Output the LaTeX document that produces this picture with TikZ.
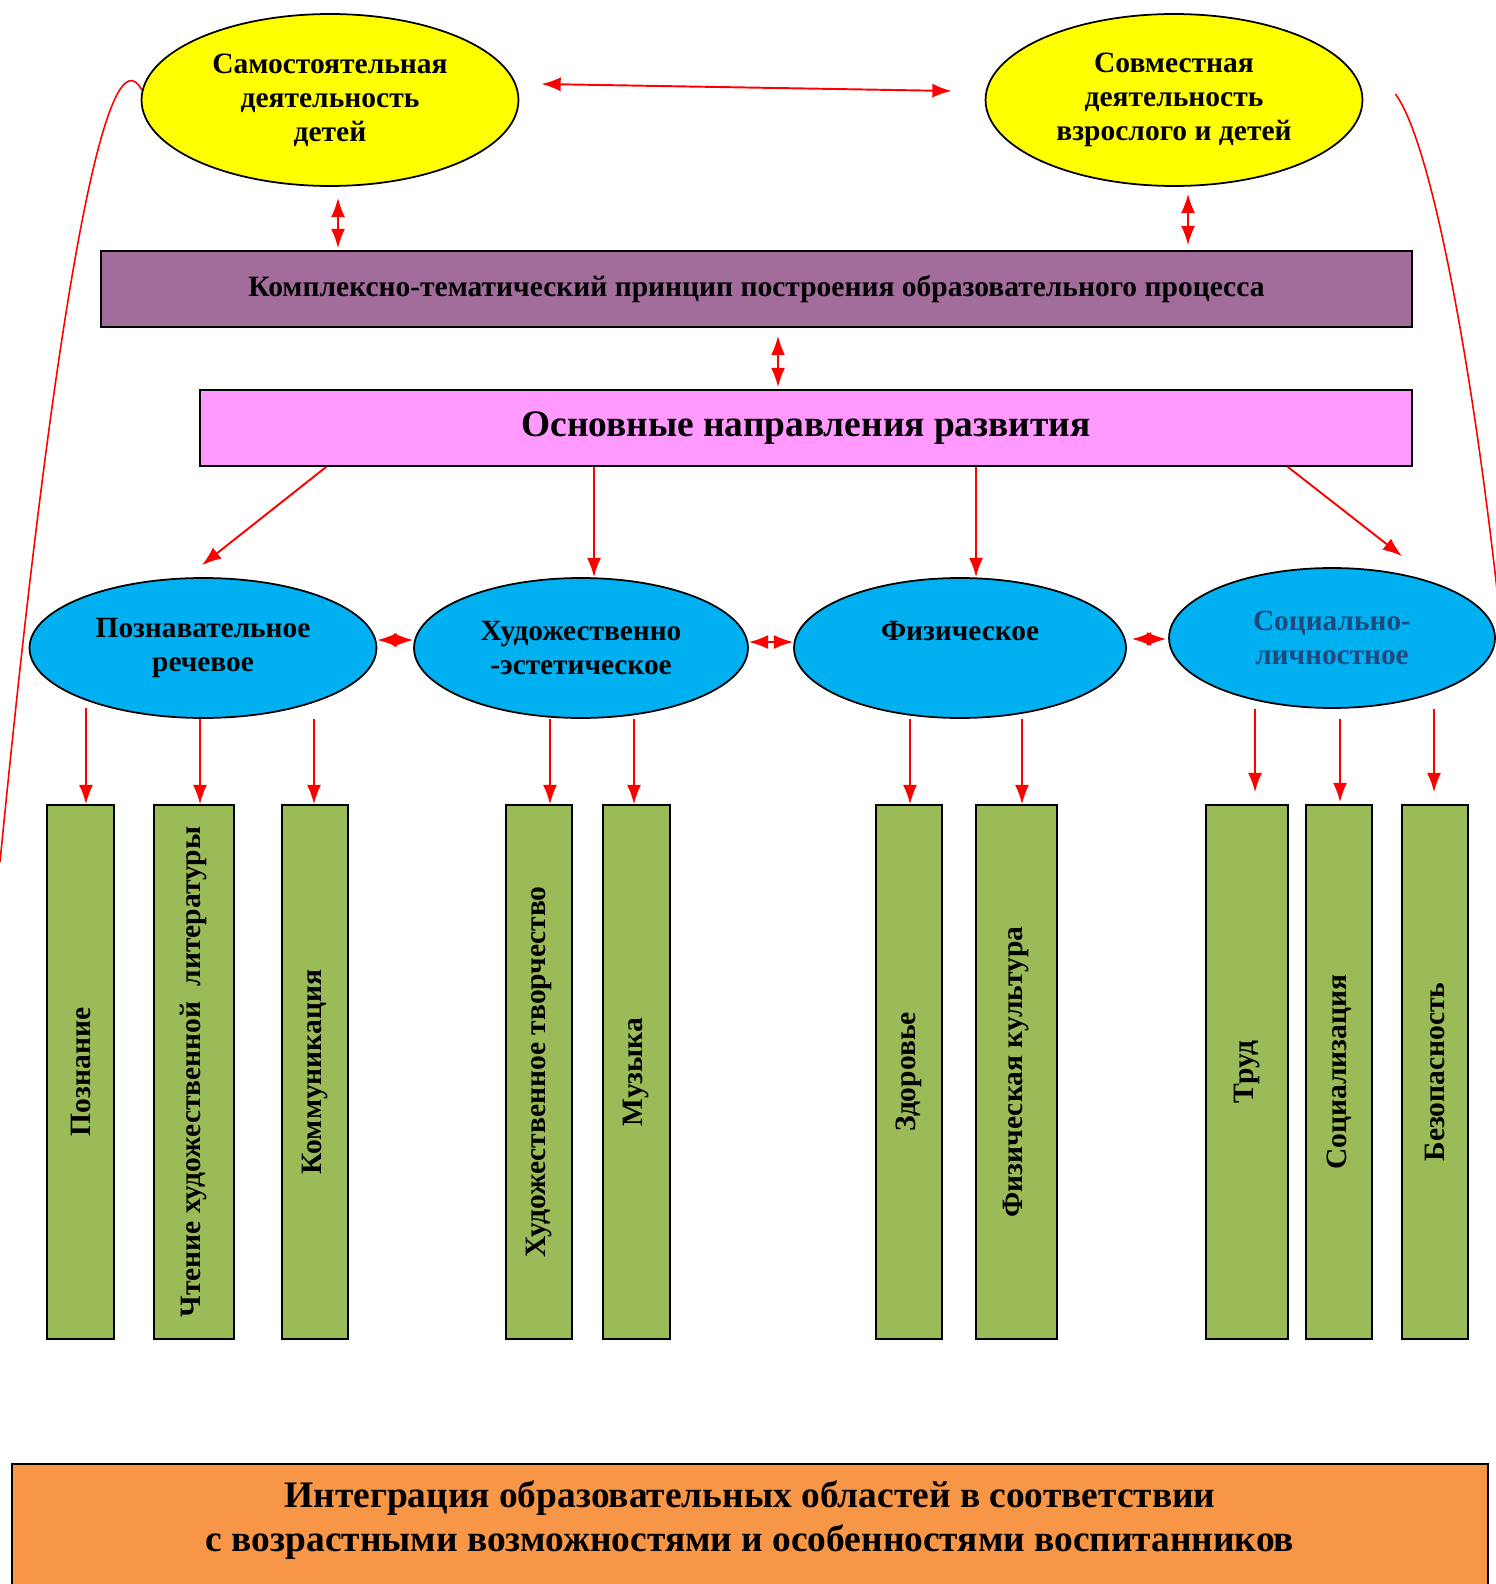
\documentclass[tikz,border=0pt]{standalone}
\usepackage{fontspec}
\setmainfont{Liberation Serif}
\usepackage{graphicx}
\usetikzlibrary{arrows.meta,shapes.geometric,positioning,calc}

\definecolor{actyellow}{HTML}{FFFF00}
\definecolor{bandpurple}{HTML}{A26C9B}
\definecolor{bandpink}{HTML}{FF99FF}
\definecolor{areablue}{HTML}{00B0F0}
\definecolor{socblue}{HTML}{1F497D}
\definecolor{fieldgreen}{HTML}{9BBB59}
\definecolor{integorange}{HTML}{F79646}

\tikzset{
  activity/.style={ellipse, draw, line width=1pt, fill=actyellow, align=center, inner sep=0pt,
    minimum width=7.54cm, minimum height=3.44cm, font=\fontsize{16.8}{19.3}\selectfont\bfseries},
  area/.style={ellipse, draw, line width=1pt, fill=areablue, align=center, inner sep=0pt,
    minimum height=2.8cm, font=\fontsize{16.7}{19.3}\selectfont\bfseries},
  band/.style={rectangle, draw, line width=1pt, inner sep=0pt, minimum height=1.52cm},
  field/.style={rectangle, draw, line width=1pt, fill=fieldgreen, inner sep=0pt,
    minimum height=10.68cm, font=\fontsize{16.8}{19}\selectfont\bfseries},
  link/.style={red, line width=1.1pt, -{Latex[length=11pt,width=8pt]}},
  dlink/.style={link, {Latex[length=11pt,width=8pt]}-{Latex[length=11pt,width=8pt]}},
  curve/.style={red, line width=0.9pt},
}

\begin{document}
\begin{tikzpicture}[x=0.02cm,y=-0.02cm]
  \useasboundingbox (0,0) rectangle (1495,1584);

  % Activities
  \node[activity] (self)  at (330,100)  {Самостоятельная\\деятельность\\детей};
  \node[activity] (joint) at (1174,100) {Совместная\\деятельность\\взрослого и детей};

  % Principle and directions
  \node[band, fill=bandpurple, minimum width=26.22cm, font=\fontsize{16.8}{19}\selectfont\bfseries] (kompl) at (756.5,289)
    {Комплексно-тематический принцип построения образовательного процесса};
  \node[band, fill=bandpink, minimum width=24.24cm, font=\fontsize{21.3}{25}\selectfont\bfseries] (napr) at (806,428)
    {Основные направления развития};

  % Areas
  \node[area, minimum width=6.94cm] (cog)  at (203,648)  {Познавательное\\речевое};
  \node[area, minimum width=6.68cm] (art)  at (581,648)  {Художественно\\-эстетическое};
  \node[area, minimum width=6.64cm] (phys) at (960,648)  {Физическое\\~};
  \node[area, minimum width=6.52cm, text=socblue] (soc) at (1332,638) {Социально-\\личностное};

  % Fields
  \node[field, minimum width=1.34cm] (pozn)  at (80.5,1072)  {\rotatebox{90}{Познание}};
  \node[field, minimum width=1.60cm] (chten) at (194,1072)   {\rotatebox{90}{Чтение художественной~~литературы}};
  \node[field, minimum width=1.32cm] (komm)  at (315,1072)   {\rotatebox{90}{Коммуникация}};
  \node[field, minimum width=1.32cm] (hud)   at (539,1072)   {\rotatebox{90}{Художественное творчество}};
  \node[field, minimum width=1.34cm] (muz)   at (636.5,1072) {\rotatebox{90}{Музыка}};
  \node[field, minimum width=1.32cm] (zdor)  at (909,1072)   {\rotatebox{90}{Здоровье}};
  \node[field, minimum width=1.62cm] (fiz)   at (1016.5,1072){\rotatebox{90}{Физическая культура}};
  \node[field, minimum width=1.64cm] (trud)  at (1247,1072)  {\rotatebox{90}{Труд}};
  \node[field, minimum width=1.32cm] (socz)  at (1339,1072)  {\rotatebox{90}{Социализация}};
  \node[field, minimum width=1.32cm] (bez)   at (1435,1072)  {\rotatebox{90}{Безопасность}};

  % Integration
  \filldraw[fill=integorange, line width=1pt] (12,1464) rectangle (1488,1600);
  \node[font=\fontsize{21.3}{25}\selectfont\bfseries, align=center] (integ) at (750,1520)
    {Интеграция образовательных областей в соответствии\\с возрастными возможностями и особенностями воспитанников};

  % Links between activities and principle
  \draw[dlink] ($(self.east)+(22,-16)$) -- ($(joint.west)+(-33,-9)$);
  \draw[dlink] ($(self.south)+(8,11)$) -- ($(self.south |- kompl.north)+(8,-2)$);
  \draw[dlink] ($(joint.south)+(14,7)$) -- ($(joint.south |- kompl.north)+(14,-5)$);
  \draw[dlink] ($(kompl.south)+(21.5,8)$) -- ($(kompl.south |- napr.north)+(21.5,-2)$);

  % Directions
  \draw[link] ($(napr.south west)+(127,0)$) -- ($(cog.north)+(-1,-12)$);
  \draw[link] ($(art.north |- napr.south)+(13,0)$) -- ($(art.north)+(13,0)$);
  \draw[link] ($(phys.north |- napr.south)+(16,0)$) -- ($(phys.north)+(16,0)$);
  \draw[link] ($(napr.south east)+(-125,0)$) -- ($(soc.north)+(70,-11)$);

  % Between areas
  \draw[dlink] ($(cog.east)+(0,-8)$) -- ($(art.west)+(0,-8)$);
  \draw[dlink] ($(art.east)+(0,-6)$) -- ($(phys.west)+(0,-6)$);
  \draw[dlink] ($(phys.east)+(5,-9)$) -- ($(soc.west)+(-2,1)$);

  % Areas to fields
  \foreach \src/\dst/\dx/\dy/\gap in {cog/pozn/5.5/-11/0, cog/chten/6/0/0, cog/komm/-1/0/0,
      art/hud/11/0/0, art/muz/-2.5/0/0, phys/zdor/1/0/0, phys/fiz/5.5/0/0,
      soc/trud/8/0/12, soc/socz/1/10/2, soc/bez/-1/0/12}
    \draw[link] ($(\dst.north |- \src.south)+(\dx,\dy)$) -- ($(\dst.north)+(\dx,-\gap)$);

  % Side curves
  \coordinate (leftEnd) at (0,862);
  \coordinate (rightEnd) at (1497,590);
  \draw[curve] (self.177) .. controls (110,30) and (60,250) .. (leftEnd);
  \draw[curve] ($(joint.east)+(32,-6)$) .. controls (1430,140) and (1470,350) .. (rightEnd);
\end{tikzpicture}
\end{document}
